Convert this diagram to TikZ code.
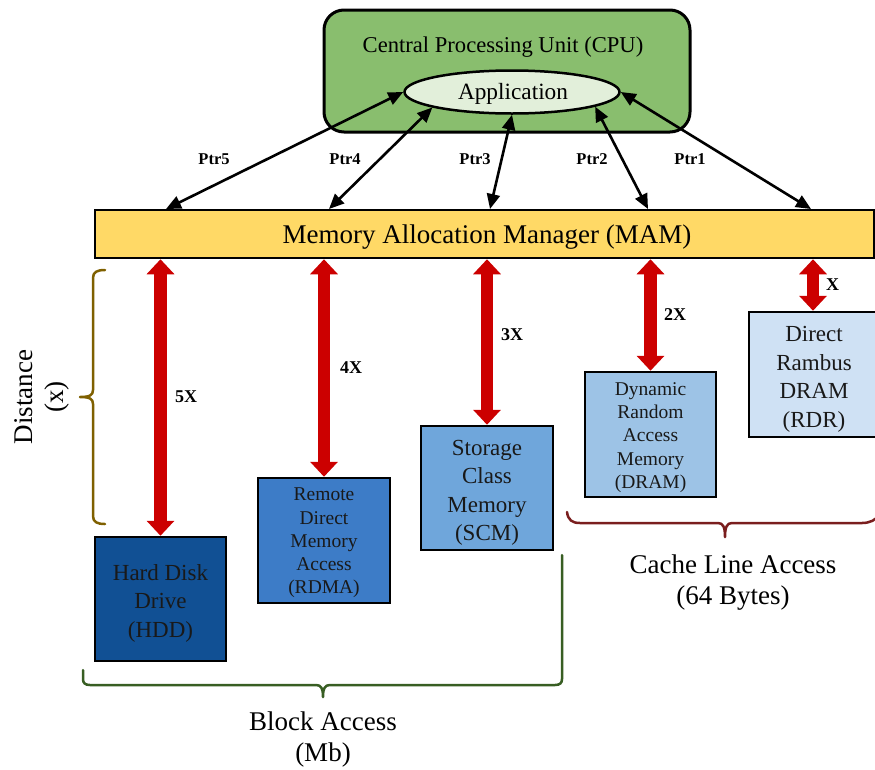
\documentclass[tikz,border=0pt]{standalone}
\usepackage{fontspec}
\setmainfont{Liberation Serif}
\usetikzlibrary{arrows.meta,shapes.geometric}
\definecolor{cpugreen}{RGB}{137,190,110}
\definecolor{appgreen}{RGB}{226,239,218}
\definecolor{mamyellow}{RGB}{255,217,102}
\definecolor{hddblue}{RGB}{17,80,148}
\definecolor{rdmablue}{RGB}{61,124,199}
\definecolor{scmblue}{RGB}{111,166,219}
\definecolor{dramblue}{RGB}{157,195,230}
\definecolor{rdrblue}{RGB}{207,225,244}
\definecolor{arrowred}{RGB}{204,0,0}
\definecolor{distcol}{RGB}{127,96,0}
\definecolor{blockcol}{RGB}{56,94,35}
\definecolor{cachecol}{RGB}{122,30,30}
\begin{document}
\begin{tikzpicture}[x=1pt,y=-1pt,
  memblock/.style={draw=black, line width=2.5pt, inner sep=0pt, minimum width=131pt, minimum height=124pt},
  blocktext/.style={align=center, text=black!90, inner sep=0pt},
  bigtxt/.style={font=\fontsize{23}{28.5}\selectfont},
  smalltxt/.style={font=\fontsize{19.5}{23.3}\selectfont},
  ptrarrow/.style={{Triangle[length=15pt,width=13pt]}-{Triangle[length=15pt,width=13pt]}, line width=2.6pt, draw=black},
  redarrow/.style={{Triangle[length=15pt,width=27pt]}-{Triangle[length=15pt,width=27pt]}, line width=12.5pt, draw=arrowred},
  ptrlabel/.style={font=\bfseries\fontsize{16.5}{18}\selectfont},
  distlabel/.style={font=\bfseries\fontsize{18}{20}\selectfont, anchor=west, inner sep=0pt},
  bracepath/.style={line width=2.5pt, line cap=round, line join=round},
  biglabel/.style={font=\fontsize{27}{31}\selectfont, align=center, inner sep=0pt}]
\useasboundingbox (0,0) rectangle (875,769);

% CPU
\node[draw=black, line width=3pt, fill=cpugreen, rounded corners=20pt, minimum width=366pt, minimum height=122pt, inner sep=0pt] (cpu) at (507,71) {};
\node[font=\fontsize{22.6}{26}\selectfont] (cputxt) at (503,47) {Central Processing Unit (CPU)};
\node[ellipse, draw=black, line width=2.5pt, fill=appgreen, minimum width=215pt, minimum height=43pt, inner sep=0pt] (app) at (512,92) {};
\node[font=\fontsize{23.3}{26}\selectfont] (apptxt) at (513,94) {Application};

% MAM
\node[draw=black, line width=2.5pt, fill=mamyellow, minimum width=779pt, minimum height=48pt, inner sep=0pt] (mam) at (484.5,234) {};
\node[font=\fontsize{27}{30}\selectfont] (mamtxt) at (487,237) {Memory Allocation Manager (MAM)};

\coordinate (m5) at (166,209);
\coordinate (m4) at (329,209);
\coordinate (m3) at (490,209);
\coordinate (m2) at (648,209);
\coordinate (m1) at (811,209);

\draw[ptrarrow] (app.west) -- (m5);
\draw[ptrarrow] (app.191) -- (m4);
\draw[ptrarrow] (app.south) -- (m3);
\draw[ptrarrow] (app.350) -- (m2);
\draw[ptrarrow] (app.east) -- (m1);

\node[ptrlabel] (l5) at (214,159) {Ptr5};
\node[ptrlabel] (l4) at (345,159) {Ptr4};
\node[ptrlabel] (l3) at (475,159) {Ptr3};
\node[ptrlabel] (l2) at (592,159) {Ptr2};
\node[ptrlabel] (l1) at (690,159) {Ptr1};

% memory blocks
\node[memblock, fill=hddblue] (hdd) at (160.5,599) {};
\node[blocktext, bigtxt] (hddtxt) at (160.5,603) {Hard Disk\\Drive\\(HDD)};
\node[memblock, fill=rdmablue, minimum width=132pt, minimum height=125pt] (rdma) at (324,540.5) {};
\node[blocktext, smalltxt] (rdmatxt) at (324,543) {Remote\\Direct\\Memory\\Access\\(RDMA)};
\node[memblock, fill=scmblue, minimum width=132pt] (scm) at (487,488) {};
\node[blocktext, bigtxt] (scmtxt) at (487,493) {Storage\\Class\\Memory\\(SCM)};
\node[memblock, fill=dramblue, minimum height=125pt] (dram) at (650.5,434.5) {};
\node[blocktext, smalltxt] (dramtxt) at (650.5,437.5) {Dynamic\\Random\\Access\\Memory\\(DRAM)};
\node[memblock, fill=rdrblue, minimum width=128pt, minimum height=125pt] (rdr) at (813,374.5) {};
\node[blocktext, bigtxt] (rdrtxt) at (814,379.5) {Direct\\Rambus\\DRAM\\(RDR)};

% red arrows
\draw[redarrow] (hdd.north) -- (hdd.north |- mam.south);
\draw[redarrow] (rdma.north) -- (rdma.north |- mam.south);
\draw[redarrow] (scm.north) -- (scm.north |- mam.south);
\draw[redarrow] (dram.north) -- (dram.north |- mam.south);
\draw[redarrow] (rdr.north) -- (rdr.north |- mam.south);

\node[distlabel] (x5) at (175,397) {5X};
\node[distlabel] (x4) at (340,368) {4X};
\node[distlabel] (x3) at (501,335) {3X};
\node[distlabel] (x2) at (664,315) {2X};
\node[distlabel] (x1) at (826,285) {X};

% Distance brace
\draw[bracepath, draw=distcol] (105,270) .. controls (97,270) and (93,272) .. (93,278) -- (93,390)
  .. controls (93,395) and (90,397) .. (80,397) .. controls (90,397) and (93,399) .. (93,404)
  -- (93,516) .. controls (93,522) and (97,524) .. (105,524);
\node[biglabel, rotate=90] (distance) at (42,397) {Distance\\(x)};

% Block access brace
\draw[bracepath, draw=blockcol] (83,670) -- (83,679) .. controls (83,683) and (85,685) .. (90,685)
  -- (316,685) .. controls (321,685) and (323,688) .. (323,697) .. controls (323,688) and (325,685) .. (330,685)
  -- (555,685) .. controls (560,685) and (562,683) .. (562,679) -- (562,555);
\node[biglabel] (block) at (323,739) {Block Access\\(Mb)};

% Cache line brace
\draw[bracepath, draw=cachecol] (567,512) .. controls (568,520) and (572,523) .. (580,523)
  -- (718,523) .. controls (723,523) and (725,527) .. (725,537) .. controls (725,527) and (727,523) .. (732,523)
  -- (862,523) .. controls (870,523) and (876,520) .. (880,514);
\node[biglabel] (cache) at (733,583) {Cache Line Access\\(64 Bytes)};
\end{tikzpicture}
\end{document}
